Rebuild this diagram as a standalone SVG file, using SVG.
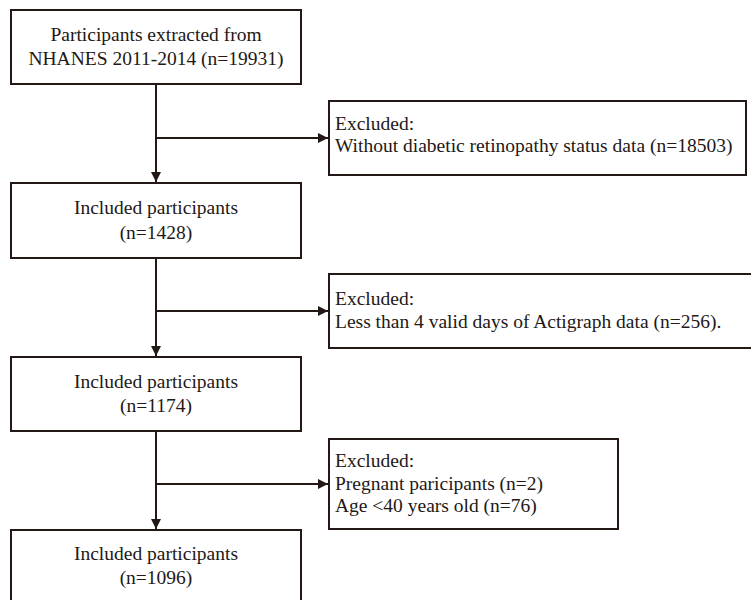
<svg xmlns="http://www.w3.org/2000/svg" width="751" height="600" viewBox="0 0 751 600">
<defs>
<style>
.box{fill:#fff;stroke:#231815;stroke-width:2}
.ln{fill:none;stroke:#231815;stroke-width:2}
text{font-family:"Liberation Serif","Times New Roman",serif;font-size:19.5px;fill:#231815}
.c{text-anchor:middle}
</style>
<marker id="ah" viewBox="0 0 10 10" refX="10" refY="5" markerWidth="5" markerHeight="5" orient="auto" markerUnits="strokeWidth">
<path d="M0,0 L10,5 L0,10 Z" fill="#231815"/>
</marker>
</defs>
<rect width="751" height="600" fill="#fff"/>
<g id="connectors">
<path class="ln" d="M156,84 V182" marker-end="url(#ah)"/>
<path class="ln" d="M156,138 H328" marker-end="url(#ah)"/>
<path class="ln" d="M156,258 V356" marker-end="url(#ah)"/>
<path class="ln" d="M156,311 H328" marker-end="url(#ah)"/>
<path class="ln" d="M156,431 V529" marker-end="url(#ah)"/>
<path class="ln" d="M156,484 H328" marker-end="url(#ah)"/>
</g>
<g id="n1">
<rect class="box" x="11" y="10" width="290" height="74"/>
<text class="c" x="156" y="41">Participants extracted from</text>
<text class="c" x="156" y="65">NHANES 2011-2014 (n=19931)</text>
</g>
<g id="e1">
<rect class="box" x="329" y="101" width="417" height="74"/>
<text x="335" y="130">Excluded:</text>
<text x="335" y="152">Without diabetic retinopathy status data (n=18503)</text>
</g>
<g id="n2">
<rect class="box" x="11" y="183" width="290" height="75"/>
<text class="c" x="156" y="214">Included participants</text>
<text class="c" x="156" y="239">(n=1428)</text>
</g>
<g id="e2">
<rect class="box" x="329" y="274" width="440" height="74"/>
<text x="335" y="305">Excluded:</text>
<text x="335" y="328">Less than 4 valid days of Actigraph data (n=256).</text>
</g>
<g id="n3">
<rect class="box" x="11" y="357" width="290" height="74"/>
<text class="c" x="156" y="388">Included participants</text>
<text class="c" x="156" y="412">(n=1174)</text>
</g>
<g id="e3">
<rect class="box" x="329" y="439" width="289" height="90"/>
<text x="335" y="467">Excluded:</text>
<text x="335" y="490">Pregnant paricipants (n=2)</text>
<text x="335" y="512">Age &lt;40 years old (n=76)</text>
</g>
<g id="n4">
<rect class="box" x="11" y="530" width="290" height="80"/>
<text class="c" x="156" y="560">Included participants</text>
<text class="c" x="156" y="584">(n=1096)</text>
</g>
</svg>
